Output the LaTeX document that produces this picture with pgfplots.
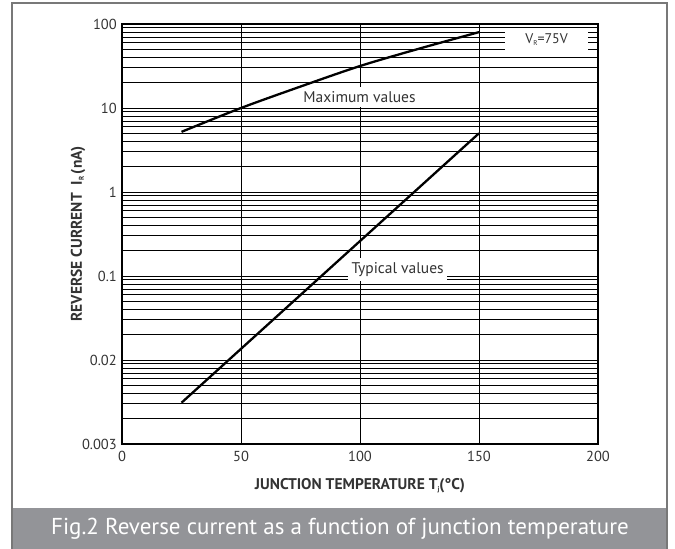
\documentclass[border=0pt]{standalone}
\usepackage{fontspec}
\setmainfont{PT Sans}
\usepackage{pgfplots}
\pgfplotsset{compat=1.18}
\definecolor{capgray}{RGB}{147,148,152}
\definecolor{framegray}{RGB}{120,120,120}
\definecolor{txt}{RGB}{51,51,51}
\newcommand{\tinysub}[1]{\raisebox{-0.25ex}{\fontsize{7}{8}\selectfont #1}}
\begin{document}
\begin{tikzpicture}[x=1pt,y=1pt]
\path[use as bounding box] (0,0) rectangle (675,549);
\fill[capgray] (12,0) rectangle (667,41);
\draw[framegray, line width=1.2pt] (12,0) -- (12,546) -- (667,546) -- (667,0);
\node[white, font=\fontsize{23}{26}\selectfont] at (340,20.5)
  {Fig.2 Reverse current as a function of junction temperature};
\begin{axis}[
  at={(122pt,105pt)}, anchor=south west,
  scale only axis, width=476pt, height=420pt,
  ymode=log,
  xmin=0, xmax=200, ymin=0.001, ymax=100,
  xtick={0,50,100,150,200},
  ytick={0.001,0.01,0.1,1,10,100},
  yticklabels={0.003,0.02,0.1,1,10,100},
  major tick length=0pt, minor tick length=0pt,
  xmajorgrids, ymajorgrids, yminorgrids,
  major grid style={black, line width=0.9pt},
  minor grid style={black, line width=0.9pt},
  axis line style={black, line width=1.3pt},
  /pgf/number format/assume math mode=true,
  tick label style={text=txt, font=\fontsize{14.5}{16}\selectfont},
  yticklabel style={inner sep=0pt, xshift=-5pt},
  xticklabel style={inner sep=0pt, yshift=-7pt},
  xlabel={\bfseries JUNCTION TEMPERATURE T\tinysub{j}(°C)},
  ylabel={\bfseries REVERSE CURRENT\ \ I\tinysub{R}\,(nA)},
  label style={text=txt, font=\fontsize{15.5}{17}\selectfont},
  xlabel style={anchor=center, at={(axis description cs:0.5,0)}, yshift=-42pt},
  ylabel style={anchor=center, at={(axis description cs:0,0.5)}, yshift=44pt},
]
\node[fill=white, inner sep=0pt, minimum width=125pt, minimum height=20pt,
  text=txt, font=\fontsize{15.5}{17}\selectfont] at (axis cs:99.8,13.5) {Maximum values};
\node[fill=white, inner sep=0pt, minimum width=99pt, minimum height=23pt,
  text=txt, font=\fontsize{15.5}{17}\selectfont] at (axis cs:115.8,0.119) {Typical values};
\node[fill=white, inner sep=0pt, minimum width=83pt, minimum height=21pt,
  text=txt, font=\fontsize{14}{16}\selectfont] at (axis cs:178.4,65.4) {V\tinysub{R}=75V};
\addplot[black, line width=2.3pt, smooth] coordinates {
  (25,5.2) (50,10) (75,18) (100,31.6) (125,51) (150,80)
};
\addplot[black, line width=2.3pt] coordinates {
  (25,0.0031) (150,5)
};
\end{axis}
\end{tikzpicture}
\end{document}
